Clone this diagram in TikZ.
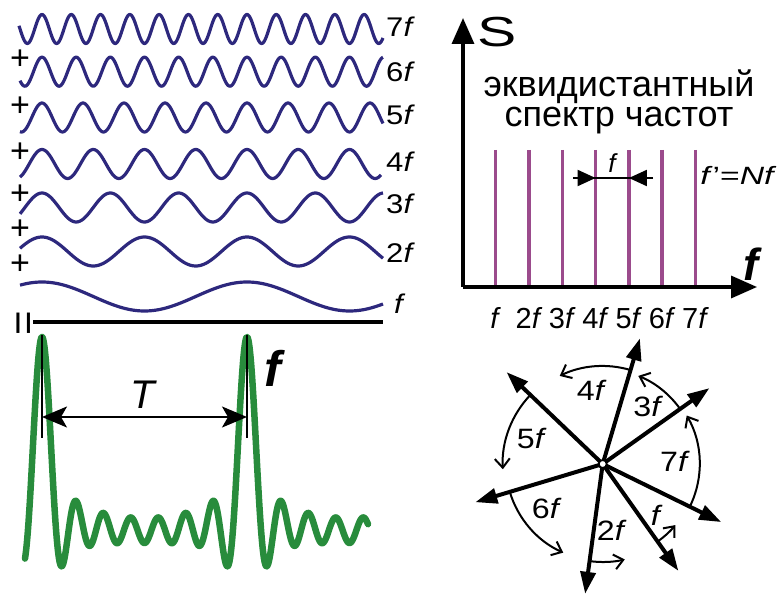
\documentclass[tikz,border=0pt]{standalone}
\usepackage{fontspec}
\setmainfont{Liberation Sans}
\usetikzlibrary{arrows.meta}
\definecolor{wavec}{RGB}{45,40,125}
\definecolor{specc}{RGB}{155,75,140}
\definecolor{pulsec}{RGB}{40,140,60}
\begin{document}
\begin{tikzpicture}[x=1pt,y=-1pt,
  declare function={th(\x)=1.7560976*(\x-42);},
  wave/.style={wavec,line width=3.2pt,line join=round},
  lab/.style={font=\fontsize{27}{27}\selectfont,inner sep=0pt,xscale=1.15},
  plab/.style={font=\fontsize{28}{28}\selectfont,inner sep=0pt,xscale=1.15},
  axlab/.style={font=\fontsize{29}{29}\selectfont,inner sep=0pt},
  plus/.style={font=\fontsize{34}{34}\selectfont,inner sep=0pt},
  specline/.style={specc,line width=3.5pt},
  axis/.style={line width=3.5pt,-{Triangle[length=26pt,width=22pt]}},
  phasor/.style={line width=4pt,-{Triangle[length=22pt,width=15pt]}},
  rot/.style={line width=2pt,-{Straight Barb[length=9pt,width=15pt]}},
  dim/.style={line width=2pt,{Stealth[length=25pt,width=21pt,inset=6pt]}-{Stealth[length=25pt,width=21pt,inset=6pt]}}
]
\useasboundingbox (0,0) rectangle (777,596);

% ---------- harmonics ----------
\draw[wave] plot[domain=19:383,samples=400] (\x,{29-14.5*cos(7*th(\x))});
\draw[wave] plot[domain=20:383,samples=400] (\x,{71.7-14.5*cos(6*th(\x))});
\draw[wave] plot[domain=20:383,samples=350] (\x,{117.5-14.5*cos(5*th(\x))});
\draw[wave] plot[domain=20:381,samples=300] (\x,{164-14.5*cos(4*th(\x))});
\draw[wave] plot[domain=20:383,samples=250] (\x,{207.5-14.5*cos(3*th(\x))});
\draw[wave] plot[domain=20:383,samples=200] (\x,{251.5-14.5*cos(2*th(\x))});
\draw[wave] plot[domain=20:383,samples=150] (\x,{296.5-14.5*cos(th(\x))});

\node[lab,anchor=base west] (l7) at (386,36.7) {7\textit{f}};
\node[lab,anchor=base west] (l6) at (386,81.7) {6\textit{f}};
\node[lab,anchor=base west] (l5) at (386,125) {5\textit{f}};
\node[lab,anchor=base west] (l4) at (386,171.7) {4\textit{f}};
\node[lab,anchor=base west] (l3) at (386,213.5) {3\textit{f}};
\node[lab,anchor=base west] (l2) at (386,263) {2\textit{f}};
\node[lab,anchor=base west] (l1) at (394,313) {\textit{f}};

\node[plus] (pl1) at (20,60) {+};
\node[plus] (pl2) at (20,107) {+};
\node[plus] (pl3) at (20,153) {+};
\node[plus] (pl4) at (20,195) {+};
\node[plus] (pl5) at (20,230) {+};
\node[plus] (pl6) at (20,265) {+};
\node[font=\fontsize{42}{42}\selectfont,inner sep=0pt,rotate=90] (eq) at (27,322.8) {=};

\coordinate (sumL) at (33,322);
\coordinate (sumR) at (383,322);
\draw[line width=4pt] (sumL) -- (sumR);

% ---------- pulse train ----------
\draw[pulsec,line width=6.5pt,line join=round,line cap=round]
  plot[domain=25:368,samples=700]
  (\x,{512+3*(1-cos(th(\x)))-25*(cos(th(\x))+cos(2*th(\x))+cos(3*th(\x))+cos(4*th(\x))+cos(5*th(\x))+cos(6*th(\x))+cos(7*th(\x)))});
\coordinate (m1t) at (42,335);
\coordinate (m1b) at (42,438);
\coordinate (m2t) at (247,335);
\coordinate (m2b) at (247,438);
\draw[line width=2pt] (m1t) -- (m1b);
\draw[line width=2pt] (m2t) -- (m2b);
\coordinate (ta) at (42,417);
\coordinate (tb) at (247,417);
\draw[dim] (ta) -- (tb);
\node[font=\fontsize{40}{40}\selectfont\itshape,inner sep=0pt] (T) at (143,395) {T};
\node[font=\fontsize{50}{50}\selectfont\bfseries\itshape,inner sep=0pt,anchor=base] (fp) at (273,386) {f};

% ---------- spectrum ----------
\coordinate (org) at (463,287);
\coordinate (ytip) at (463,18);
\coordinate (xtip) at (757,287);
\foreach \i/\t in {1/\textit{f},2/2\textit{f},3/3\textit{f},4/4\textit{f},5/5\textit{f},6/6\textit{f},7/7\textit{f}}{
  \coordinate (s\i t) at ({462.4+33.3*\i},150);
  \coordinate (s\i b) at ({462.4+33.3*\i},287);
  \draw[specline] (s\i t) -- (s\i b);
  \node[axlab,anchor=base] (n\i) at ({462.4+33.3*\i},328) {\t};
}
\draw[axis] (org) -- (ytip);
\draw[axis] (org) -- (xtip);
\node[font=\fontsize{42}{42}\selectfont,inner sep=0pt,anchor=base,xscale=1.4] (S) at (497,47) {S};
\node[font=\fontsize{36}{30}\selectfont,inner sep=0pt,align=center,anchor=base] (txt) at (619,126.7) {эквидистантный\\спектр частот};
\node[font=\fontsize{45}{45}\selectfont\bfseries\itshape,inner sep=0pt,anchor=base] (fx) at (751,280) {f};
\node[font=\fontsize{25}{25}\selectfont,inner sep=0pt,anchor=base west,xscale=1.35] (fN) at (700,185) {\textit{f}’=\textit{Nf}};
\coordinate (da) at (573,178);
\coordinate (db) at (653,178);
\coordinate (d4) at (595.6,178);
\coordinate (d5) at (628.9,178);
\draw[line width=2pt] (da) -- (db);
\draw[line width=2pt,-{Triangle[length=18pt,width=16pt]}] (da) -- (d4);
\draw[line width=2pt,-{Triangle[length=18pt,width=16pt]}] (db) -- (d5);
\node[font=\fontsize{26}{26}\selectfont\itshape,inner sep=0pt,anchor=base] (fd) at (612,173) {f};

% ---------- phasors ----------
\begin{scope}[shift={(602.7,464)},yscale=-1]
  \coordinate (O) at (0,0);
  \coordinate (p1) at (305.3:131);
  \coordinate (p2) at (262.3:131);
  \coordinate (p3) at (35.4:131);
  \coordinate (p4) at (73.5:131);
  \coordinate (p5) at (136.3:133);
  \coordinate (p6) at (196.7:133);
  \coordinate (p7) at (333.9:132);
  \foreach \k in {1,...,7} {\draw[phasor] (O) -- (p\k);}
  \coordinate (r1) at (305.3:95);
  \coordinate (r2) at (262.3:98);
  \coordinate (r3) at (35.4:95);
  \coordinate (r4) at (73.5:98);
  \coordinate (r5) at (136.3:100);
  \coordinate (r6) at (196.7:97);
  \coordinate (r7) at (333.9:97);
  \draw[rot] (r1) arc[start angle=305.3,end angle=320,radius=95];
  \draw[rot] (r2) arc[start angle=262.3,end angle=283,radius=98];
  \draw[rot] (r3) arc[start angle=35.4,end angle=68,radius=95];
  \draw[rot] (r4) arc[start angle=73.5,end angle=116,radius=98];
  \draw[rot] (r5) arc[start angle=136.3,end angle=183,radius=100];
  \draw[rot] (r6) arc[start angle=196.7,end angle=246,radius=97];
  \draw[rot] (r7) arc[start angle=333.9,end angle=390,radius=97];
  \node[circle,draw,fill=white,line width=1.8pt,inner sep=0pt,minimum size=8pt] (ctr) at (O) {};
\end{scope}
\node[plab] (q4) at (591.7,390) {4\textit{f}};
\node[plab] (q3) at (648.3,406.7) {3\textit{f}};
\node[plab] (q5) at (531.7,438.3) {5\textit{f}};
\node[plab] (q7) at (675,461.7) {7\textit{f}};
\node[plab] (q6) at (546.7,508.3) {6\textit{f}};
\node[plab] (q2) at (611.7,530) {2\textit{f}};
\node[plab] (q1) at (656.7,515) {\textit{f}};
\end{tikzpicture}
\end{document}
